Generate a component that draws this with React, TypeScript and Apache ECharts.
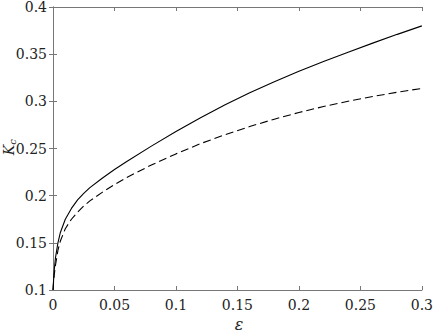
import React, { useEffect, useRef } from "react";
import * as echarts from "echarts";

const epsValues = [0, 0.0005, 0.001, 0.002, 0.004, 0.006, 0.01, 0.015, 0.02, 0.025, 0.03, 0.04, 0.05, 0.06, 0.08, 0.1, 0.12, 0.14, 0.16, 0.18, 0.2, 0.22, 0.24, 0.26, 0.28, 0.3];
const solidK = [0.1, 0.111, 0.121, 0.134, 0.150, 0.161, 0.175, 0.1865, 0.1955, 0.2025, 0.2085, 0.2185, 0.2277, 0.2362, 0.2525, 0.268, 0.2826, 0.2963, 0.309, 0.3208, 0.3318, 0.3422, 0.3521, 0.3617, 0.371, 0.380];
const dashedK = [0.1, 0.109, 0.116, 0.126, 0.142, 0.152, 0.165, 0.175, 0.1825, 0.189, 0.1945, 0.2035, 0.2118, 0.2193, 0.2325, 0.2443, 0.2552, 0.2647, 0.2733, 0.2811, 0.2882, 0.2945, 0.3001, 0.3051, 0.3097, 0.3137];

const xMin = 0;
const xMax = 0.3;
const xStep = 0.05;
const yMin = 0.1;
const yMax = 0.4;
const yStep = 0.05;

const FONT = "DejaVu Serif";
const AXIS_COLOR = "#777";
const TEXT_COLOR = "#222";

const fmt = (v: number) => String(+v.toFixed(2));

export default function App() {
  const ref = useRef<HTMLDivElement>(null);
  useEffect(() => {
    if (!ref.current) return;
    const chart = echarts.init(ref.current, null, { renderer: "svg" });
    const axisCommon = {
      type: "value" as const,
      axisLine: { show: true, lineStyle: { color: AXIS_COLOR, width: 1 } },
      axisTick: { show: true, inside: true, length: 4, lineStyle: { color: AXIS_COLOR, width: 1 } },
      splitLine: { show: false },
    };
    const labelCommon = {
      color: TEXT_COLOR,
      fontFamily: FONT,
      fontSize: 14,
      formatter: fmt,
    };
    chart.setOption({
      animation: false,
      grid: { left: 53, right: 12, top: 6, bottom: 45, containLabel: false },
      xAxis: [
        {
          ...axisCommon,
          min: xMin,
          max: xMax,
          interval: xStep,
          position: "bottom",
          axisLabel: { ...labelCommon, margin: 8 },
        },
        {
          ...axisCommon,
          min: xMin,
          max: xMax,
          interval: xStep,
          position: "top",
          axisLabel: { show: false },
        },
      ],
      yAxis: [
        {
          ...axisCommon,
          min: yMin,
          max: yMax,
          interval: yStep,
          position: "left",
          axisLabel: { ...labelCommon, margin: 6 },
        },
        {
          ...axisCommon,
          min: yMin,
          max: yMax,
          interval: yStep,
          position: "right",
          axisLabel: { show: false },
        },
      ],
      graphic: [
        {
          type: "text",
          x: 239,
          y: 324,
          style: {
            text: "ε",
            fontFamily: FONT,
            fontStyle: "italic",
            fontSize: 16,
            fill: TEXT_COLOR,
            textAlign: "center",
            textVerticalAlign: "middle",
          },
        },
        {
          type: "group",
          x: 9,
          y: 150,
          rotation: Math.PI / 2,
          children: [
            {
              type: "text",
              x: 0,
              y: 0,
              style: {
                text: "K",
                fontFamily: FONT,
                fontStyle: "italic",
                fontSize: 14,
                fill: TEXT_COLOR,
                textAlign: "center",
                textVerticalAlign: "middle",
              },
            },
            {
              type: "text",
              x: 8,
              y: 3,
              style: {
                text: "c",
                fontFamily: FONT,
                fontStyle: "italic",
                fontSize: 10,
                fill: TEXT_COLOR,
                textAlign: "center",
                textVerticalAlign: "middle",
              },
            },
          ],
        },
      ],
      series: [
        {
          type: "line",
          xAxisIndex: 0,
          yAxisIndex: 0,
          data: epsValues.map((x, i) => [x, solidK[i]]),
          showSymbol: false,
          smooth: false,
          lineStyle: { color: "#000", width: 1.1, type: "solid" },
        },
        {
          type: "line",
          xAxisIndex: 0,
          yAxisIndex: 0,
          data: epsValues.map((x, i) => [x, dashedK[i]]),
          showSymbol: false,
          smooth: false,
          lineStyle: { color: "#000", width: 1.1, type: [8, 4] },
        },
      ],
    });
    return () => chart.dispose();
  }, []);
  return (
    <div
      ref={ref}
      style={{ position: "fixed", left: 0, top: 0, width: 436, height: 335, background: "#fff" }}
    />
  );
}
